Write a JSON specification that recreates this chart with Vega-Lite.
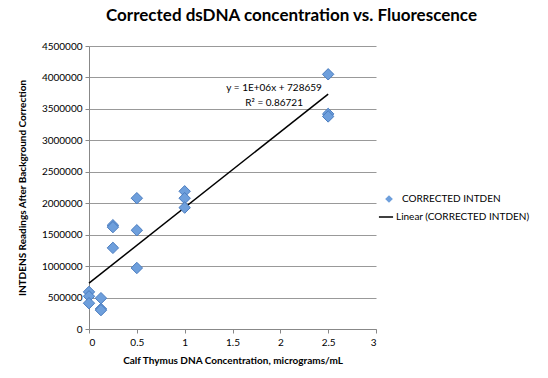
{
  "$schema": "https://vega.github.io/schema/vega-lite/v6.json",
  "autosize": "none",
  "width": 287,
  "height": 283,
  "padding": {"left": 89, "top": 46, "right": 172, "bottom": 49},
  "background": "white",
  "config": {
    "font": "Lato",
    "view": {"stroke": null},
    "axis": {"labelFont": "Lato", "titleFont": "Lato", "labelColor": "#000", "titleColor": "#000", "domainColor": "#888", "tickColor": "#888", "gridColor": "#999", "labelFontSize": 10, "titleFontSize": 10, "titleFontWeight": "bold", "labelOverlap": false},
    "legend": {"labelFont": "Lato", "labelFontSize": 10, "labelColor": "#000"}
  },
  "title": {"text": "Corrected dsDNA concentration vs. Fluorescence", "font": "Lato", "fontSize": 17, "fontWeight": "bold", "anchor": "middle", "dx": 59, "offset": 16, "color": "#000"},
  "datasets": {
    "pts": [
      {"conc": 0, "intden": 590000, "series": "CORRECTED INTDEN"},
      {"conc": 0, "intden": 520000, "series": "CORRECTED INTDEN"},
      {"conc": 0, "intden": 410000, "series": "CORRECTED INTDEN"},
      {"conc": 0.125, "intden": 490000, "series": "CORRECTED INTDEN"},
      {"conc": 0.125, "intden": 320000, "series": "CORRECTED INTDEN"},
      {"conc": 0.125, "intden": 300000, "series": "CORRECTED INTDEN"},
      {"conc": 0.25, "intden": 1650000, "series": "CORRECTED INTDEN"},
      {"conc": 0.25, "intden": 1620000, "series": "CORRECTED INTDEN"},
      {"conc": 0.25, "intden": 1290000, "series": "CORRECTED INTDEN"},
      {"conc": 0.5, "intden": 2080000, "series": "CORRECTED INTDEN"},
      {"conc": 0.5, "intden": 1570000, "series": "CORRECTED INTDEN"},
      {"conc": 0.5, "intden": 970000, "series": "CORRECTED INTDEN"},
      {"conc": 1, "intden": 2190000, "series": "CORRECTED INTDEN"},
      {"conc": 1, "intden": 2080000, "series": "CORRECTED INTDEN"},
      {"conc": 1, "intden": 1930000, "series": "CORRECTED INTDEN"},
      {"conc": 2.5, "intden": 4050000, "series": "CORRECTED INTDEN"},
      {"conc": 2.5, "intden": 3420000, "series": "CORRECTED INTDEN"},
      {"conc": 2.5, "intden": 3380000, "series": "CORRECTED INTDEN"}
    ],
    "fit": [
      {"conc": 0, "intden": 728659, "series": "Linear (CORRECTED INTDEN)"},
      {"conc": 2.5, "intden": 3736000, "series": "Linear (CORRECTED INTDEN)"}
    ],
    "labels": [
      {"conc": 1.935, "intden": 3833000, "label": "y = 1E+06x + 728659"},
      {"conc": 1.935, "intden": 3594000, "label": "R² = 0.86721"}
    ]
  },
  "encoding": {
    "x": {"field": "conc", "type": "quantitative", "scale": {"domain": [0, 3], "nice": false}, "axis": {"title": "Calf Thymus DNA Concentration, micrograms/mL", "values": [0, 0.5, 1, 1.5, 2, 2.5, 3], "format": "~g", "grid": false, "labelPadding": 4, "titlePadding": 8, "tickSize": 4}},
    "y": {"field": "intden", "type": "quantitative", "scale": {"domain": [0, 4500000], "nice": false}, "axis": {"title": "INTDENS Readings After Background Correction", "values": [0, 500000, 1000000, 1500000, 2000000, 2500000, 3000000, 3500000, 4000000, 4500000], "format": "d", "grid": true, "tickSize": 4, "labelPadding": 3, "titlePadding": 14}}
  },
  "layer": [
    {
      "data": {"name": "fit"},
      "mark": {"type": "line", "strokeWidth": 1.5},
      "encoding": {
        "stroke": {"field": "series", "type": "nominal", "scale": {"range": ["#000000"]}, "legend": {"title": null, "orient": "none", "legendX": 289, "legendY": 163, "symbolType": "stroke", "symbolSize": 200, "symbolStrokeWidth": 1.5, "labelOffset": 2}}
      }
    },
    {
      "data": {"name": "pts"},
      "mark": {"type": "point", "shape": "diamond", "filled": true, "size": 130, "stroke": "#4A7CBF", "strokeWidth": 1, "opacity": 1},
      "encoding": {
        "fill": {"field": "series", "type": "nominal", "scale": {"range": ["#6E9FDC"]}, "legend": {"title": null, "orient": "none", "legendX": 295, "legendY": 148, "symbolType": "diamond", "symbolSize": 60, "symbolStrokeWidth": 0, "labelOffset": 8}}
      }
    },
    {
      "data": {"name": "labels"},
      "mark": {"type": "text", "fontSize": 10, "font": "Lato", "color": "#000", "align": "center", "baseline": "middle"},
      "encoding": {
        "text": {"field": "label"}
      }
    }
  ]
}
